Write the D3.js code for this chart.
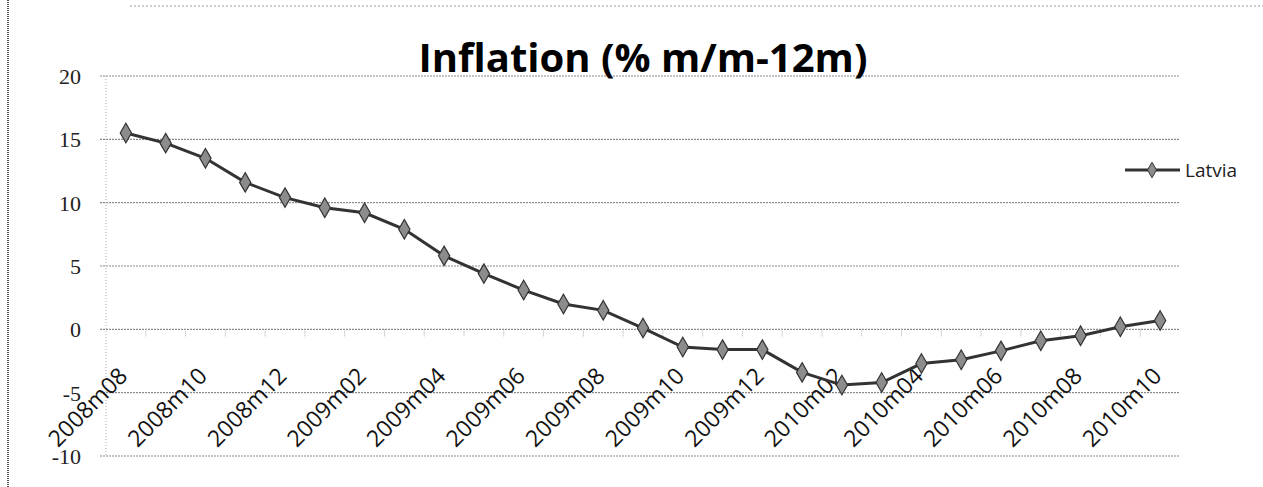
<!DOCTYPE html>
<html>
<head>
<meta charset="utf-8">
<script src="https://cdn.jsdelivr.net/npm/d3@7"></script>
<style>
  body { margin: 0; background: #fff; }
  svg { display: block; }
</style>
</head>
<body>
<svg id="chart" width="1263" height="487"></svg>
<script>
// Monthly inflation, Latvia (% m/m-12m)
const months = [
  "2008m08", "2008m09", "2008m10", "2008m11", "2008m12",
  "2009m01", "2009m02", "2009m03", "2009m04", "2009m05", "2009m06",
  "2009m07", "2009m08", "2009m09", "2009m10", "2009m11", "2009m12",
  "2010m01", "2010m02", "2010m03", "2010m04", "2010m05", "2010m06",
  "2010m07", "2010m08", "2010m09", "2010m10"
];
const latvia = [
  15.5, 14.7, 13.5, 11.6, 10.4,
  9.6, 9.2, 7.9, 5.8, 4.4, 3.1,
  2.0, 1.5, 0.1, -1.4, -1.6, -1.6,
  -3.4, -4.4, -4.2, -2.7, -2.4, -1.7,
  -0.9, -0.5, 0.2, 0.7
];
const yTicks = [20, 15, 10, 5, 0, -5, -10];
// every second month gets a label
const xLabels = months.filter((m, i) => i % 2 === 0);

const svg = d3.select("#chart");

// chart frame (scanned page edges)
svg.append("line")
  .attr("x1", 8).attr("x2", 8).attr("y1", 0).attr("y2", 487)
  .attr("stroke", "#555").attr("stroke-width", 2).attr("stroke-dasharray", "1,1");
svg.append("line")
  .attr("x1", 130).attr("x2", 1263).attr("y1", 6).attr("y2", 6)
  .attr("stroke", "#999").attr("stroke-width", 1).attr("stroke-dasharray", "2,2");

const x = d3.scaleBand().domain(months).range([106, 1180]).padding(0);
const y = d3.scaleLinear().domain([-10, 20]).range([456, 76]);
const cx = (d, i) => x(months[i]) + x.bandwidth() / 2;

// gridlines
svg.append("g")
  .selectAll("line")
  .data(yTicks)
  .join("line")
  .attr("x1", 100)
  .attr("x2", 1180)
  .attr("y1", (d) => y(d))
  .attr("y2", (d) => y(d))
  .attr("stroke", "#8a8a8a")
  .attr("stroke-width", 1.2)
  .attr("stroke-dasharray", "2,1");

// vertical axis line
svg.append("line")
  .attr("x1", 106).attr("x2", 106).attr("y1", y(20)).attr("y2", y(-10))
  .attr("stroke", "#aaa").attr("stroke-dasharray", "1,2");

// y tick labels
svg.append("g")
  .selectAll("text")
  .data(yTicks)
  .join("text")
  .attr("x", 81)
  .attr("y", (d) => y(d) + 8)
  .attr("text-anchor", "end")
  .attr("font-family", "Liberation Serif, serif")
  .attr("font-size", 22)
  .attr("fill", "#222")
  .text((d) => d);

// minor ticks under the zero line
svg.append("g")
  .selectAll("line")
  .data(months.slice(1))
  .join("line")
  .attr("x1", (d) => x(d))
  .attr("x2", (d) => x(d))
  .attr("y1", y(0))
  .attr("y2", y(0) + 7)
  .attr("stroke", "#aaa")
  .attr("stroke-dasharray", "1,1");

// x labels, rotated 45 degrees, ending at the category centre
const labelG = svg.append("g")
  .selectAll("g")
  .data(xLabels)
  .join("g")
  .attr("transform", (d) => "translate(" + (x(d) + x.bandwidth() / 2 + 3) + "," + (y(0) + 48) + ")");
labelG.append("text")
  .attr("transform", "rotate(-45)")
  .attr("text-anchor", "end")
  .attr("font-family", "Open Sans, sans-serif")
  .attr("font-size", 23)
  .attr("fill", "#111")
  .text((d) => d);

// title
svg.append("text")
  .attr("x", 643)
  .attr("y", 72)
  .attr("text-anchor", "middle")
  .attr("font-family", "Open Sans, sans-serif")
  .attr("font-weight", "bold")
  .attr("font-size", 40)
  .attr("fill", "#000")
  .text("Inflation (% m/m-12m)");

// series
const line = d3.line().x(cx).y((d) => y(d));

svg.append("path")
  .datum(latvia)
  .attr("d", line)
  .attr("fill", "none")
  .attr("stroke", "#333")
  .attr("stroke-width", 3);

const diamond = d3.symbol().type(d3.symbolDiamond).size(110);
svg.append("g")
  .selectAll("path")
  .data(latvia)
  .join("path")
  .attr("transform", (d, i) => `translate(${cx(d, i)},${y(d)})`)
  .attr("d", diamond)
  .attr("fill", "#8c8c8c")
  .attr("stroke", "#333")
  .attr("stroke-width", 1.2);

// legend
const legend = svg.append("g").attr("transform", "translate(1125,170)");
legend.append("line")
  .attr("x1", 0).attr("x2", 55).attr("y1", 0).attr("y2", 0)
  .attr("stroke", "#333").attr("stroke-width", 3);
legend.append("path")
  .attr("transform", "translate(27,0)")
  .attr("d", d3.symbol().type(d3.symbolDiamond).size(70))
  .attr("fill", "#8c8c8c")
  .attr("stroke", "#333");
legend.append("text")
  .attr("x", 60)
  .attr("y", 7)
  .attr("font-family", "Open Sans, sans-serif")
  .attr("font-size", 19)
  .attr("fill", "#222")
  .text("Latvia");
</script>
</body>
</html>
